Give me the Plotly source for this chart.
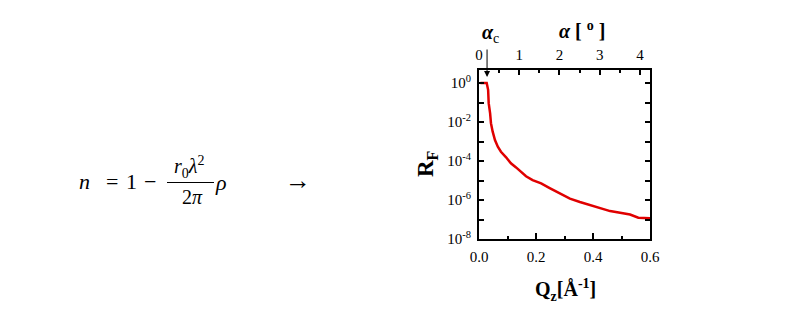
import plotly.graph_objects as go

# ---- data ----
q_z = [0.005, 0.027, 0.032, 0.034, 0.039, 0.042, 0.048, 0.056, 0.066, 0.077,
       0.095, 0.112, 0.130, 0.147, 0.165, 0.188, 0.218, 0.248, 0.284, 0.319,
       0.354, 0.389, 0.425, 0.460, 0.495, 0.530, 0.559, 0.600]
r_f = [1.0, 1.0, 4.5e-1, 9.3e-2, 2.8e-2, 8.7e-3, 3.2e-3, 1.2e-3, 5.4e-4, 3.0e-4,
       1.55e-4, 7.6e-5, 4.7e-5, 2.75e-5, 1.66e-5, 1.05e-5, 7.1e-6, 4.1e-6, 2.1e-6, 1.17e-6,
       7.9e-7, 5.4e-7, 3.6e-7, 2.7e-7, 2.2e-7, 1.8e-7, 1.23e-7, 1.17e-7]

q_ticks = [0.0, 0.2, 0.4, 0.6]
q_ticktext = ["0.0", "0.2", "0.4", "0.6"]
alpha_ticks = [0, 1, 2, 3, 4]
alpha_ticktext = ["0", "1", "2", "3", "4"]
alpha_c = 0.2
y_tickvals = [1e-8, 1e-7, 1e-6, 1e-5, 1e-4, 1e-3, 1e-2, 1e-1, 1e0]
y_ticktext = ["10<sup>-8</sup>", "", "10<sup>-6</sup>", "", "10<sup>-4</sup>", "",
              "10<sup>-2</sup>", "", "10<sup>0</sup>"]

W, H = 809, 329
SERIF = "Liberation Serif, Times New Roman, serif"


def px(x):
    return x / W


def py(y):
    return 1 - y / H


fig = go.Figure()
fig.add_trace(go.Scatter(x=q_z, y=r_f, mode="lines",
                         line=dict(color="#e00000", width=2.5),
                         showlegend=False, hoverinfo="skip"))
# invisible trace to activate top axis
fig.add_trace(go.Scatter(x=[0, 4.25], y=[1e-8, 1e-8], xaxis="x2", mode="markers",
                         marker=dict(opacity=0), showlegend=False, hoverinfo="skip"))

tickfont = dict(family=SERIF, size=15, color="black")

fig.update_layout(
    width=W, height=H,
    margin=dict(l=0, r=0, t=0, b=0, autoexpand=False),
    paper_bgcolor="white", plot_bgcolor="white",
    xaxis=dict(domain=[px(479), px(650)], range=[0, 0.6], automargin=False,
               tickvals=q_ticks, ticktext=q_ticktext,
               ticks="inside", ticklen=6, tickwidth=2, tickcolor="black",
               minor=dict(dtick=0.1, ticks="inside", ticklen=3, tickwidth=2, tickcolor="black"),
               showline=True, linewidth=2, linecolor="black", mirror=True,
               showgrid=False, zeroline=False, tickfont=tickfont, ticklabelstandoff=3),
    xaxis2=dict(overlaying="x", side="top", anchor="y", range=[0, 4.25], automargin=False,
                tickvals=alpha_ticks, ticktext=alpha_ticktext,
                ticks="inside", ticklen=5, tickwidth=2, tickcolor="black",
                minor=dict(dtick=0.5, ticks="inside", ticklen=3, tickwidth=2, tickcolor="black"),
                showline=True, linewidth=2, linecolor="black",
                showgrid=False, zeroline=False, tickfont=tickfont, ticklabelstandoff=2),
    yaxis=dict(domain=[1 - 239 / H, 1 - 70 / H], type="log", range=[-8, 0.67], automargin=False,
               tickvals=y_tickvals, ticktext=y_ticktext,
               ticks="inside", ticklen=5, tickwidth=2, tickcolor="black",
               showline=True, linewidth=2, linecolor="black", mirror="ticks",
               showgrid=False, zeroline=False, tickfont=tickfont, ticklabelstandoff=3),
)

ann = []


def text(x, y, t, size=20, **kw):
    ann.append(dict(xref="paper", yref="paper", x=px(x), y=py(y), text=t,
                    showarrow=False, xanchor="center", yanchor="middle",
                    font=dict(family=SERIF, size=size, color="black"), **kw))


# equation
text(84, 181, "<i>n</i>", size=22)
text(112, 181, "=", size=22)
text(131, 181, "1", size=22)
text(150, 181, "−", size=22)
text(189, 167, "<i>r</i><sub>0</sub><i>λ</i><sup>2</sup>", size=20)
text(192, 197, "2<i>π</i>", size=20)
text(221, 182, "<i>ρ</i>", size=22)
text(298, 180, "→", size=26)

# axis titles
text(427, 164, "<b>R<sub>F</sub></b>", size=23, textangle=-90)
text(565, 290, "<b>Q<sub>z</sub>[Å<sup>-1</sup>]</b>", size=20)
text(582, 30, "<b><i>α</i> [ <sup>o</sup> ]</b>", size=20)
text(490, 34, "<b><i>α</i></b><sub>c</sub>", size=20)

# arrow to alpha_c
ann.append(dict(xref="x2", yref="paper", x=alpha_c, y=py(77), text="",
                showarrow=True, ax=0, ay=-29, arrowhead=2, arrowsize=1.2,
                arrowwidth=1, arrowcolor="black"))

fig.update_layout(annotations=ann,
                  shapes=[dict(type="line", xref="paper", yref="paper",
                               x0=px(167), x1=px(214), y0=py(182.5), y1=py(182.5),
                               line=dict(color="black", width=1))])

fig.write_html("out.html")
